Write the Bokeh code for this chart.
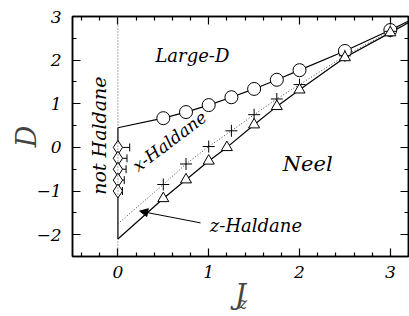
from bokeh.plotting import figure
from bokeh.models import (FixedTicker, LinearAxis, Label, Span, Whisker, TeeHead,
                          Arrow, NormalHead, ColumnDataSource, Range1d)
from bokeh.embed import file_html
from bokeh.resources import INLINE

# ---- data ----
large_d_J = [0.5, 0.75, 1.0, 1.25, 1.5, 1.75, 2.0, 2.5, 3.0]
large_d_D = [0.67, 0.81, 0.97, 1.15, 1.34, 1.55, 1.77, 2.21, 2.69]
large_d_line_J = [0.0, 0.5, 0.75, 1.0, 1.25, 1.5, 1.75, 2.0, 2.5, 3.0, 3.5]
large_d_line_D = [0.45, 0.67, 0.81, 0.97, 1.15, 1.34, 1.55, 1.77, 2.21, 2.69, 3.2]

x_hald_J = [0.5, 0.75, 1.0, 1.25, 1.5, 1.75, 2.0, 2.5, 3.0]
x_hald_D = [-0.85, -0.38, 0.02, 0.38, 0.75, 1.11, 1.44, 2.10, 2.66]
x_hald_line_J = [0.0, 0.5, 0.75, 1.0, 1.25, 1.5, 1.75, 2.0, 2.5, 3.0, 3.5]
x_hald_line_D = [-1.75, -0.85, -0.38, 0.02, 0.38, 0.75, 1.11, 1.44, 2.10, 2.66, 3.2]

z_hald_J = [0.5, 0.75, 1.0, 1.2, 1.5, 1.75, 2.0, 2.5, 3.0]
z_hald_D = [-1.17, -0.74, -0.31, 0.0, 0.52, 0.94, 1.32, 2.06, 2.63]
z_hald_line_J = [0.0, 0.5, 0.75, 1.0, 1.2, 1.5, 1.75, 2.0, 2.5, 3.0, 3.5]
z_hald_line_D = [-2.1, -1.17, -0.74, -0.31, 0.0, 0.52, 0.94, 1.32, 2.06, 2.63, 3.2]

boundary_J = [0.0, 0.0]
boundary_D = [-2.1, 0.45]

not_hald_J = [0.0, 0.0, 0.0, 0.0, 0.0]
not_hald_D = [0.0, -0.25, -0.5, -0.75, -1.0]
not_hald_err = [0.13, 0.10, 0.09, 0.07, 0.05]

x_major = [0, 1, 2, 3]
x_minor = [-0.4, -0.2, 0.2, 0.4, 0.6, 0.8, 1.2, 1.4, 1.6, 1.8, 2.2, 2.4, 2.6, 2.8, 3.2]
y_major = [-2, -1, 0, 1, 2, 3]
y_minor = [-2.5, -1.5, -0.5, 0.5, 1.5, 2.5]
y_labels = {-2: "\u22122", -1: "\u22121", 0: "0", 1: "1", 2: "2", 3: "3"}
x_labels = {0: "0", 1: "1", 2: "2", 3: "3"}
blank_x = {0: "", 1: "", 2: "", 3: ""}
blank_y = {-2: "", -1: "", 0: "", 1: "", 2: "", 3: ""}

FONT = "DejaVu Serif"
STYLE = "italic"

p = figure(width=409, height=316, x_range=Range1d(-0.5, 3.2), y_range=Range1d(-2.5, 3.0),
           output_backend="svg", toolbar_location=None,
           min_border_left=72, min_border_right=1, min_border_top=16, min_border_bottom=60)
p.grid.visible = False
p.outline_line_color = "black"
p.outline_line_width = 1.5
p.background_fill_color = "white"
p.border_fill_color = "white"


def style_axis(ax, ticks, minor, labels):
    ax.ticker = FixedTicker(ticks=ticks, minor_ticks=minor)
    ax.axis_line_color = "black"
    ax.axis_line_width = 1.5
    ax.major_tick_in = 8
    ax.major_tick_out = 0
    ax.minor_tick_in = 4
    ax.minor_tick_out = 0
    ax.major_tick_line_width = 1.2
    ax.minor_tick_line_width = 1.2
    ax.major_label_overrides = labels
    ax.major_label_text_font = FONT
    ax.major_label_text_font_style = STYLE
    ax.major_label_text_font_size = "17px"
    ax.major_label_text_color = "black"
    ax.major_label_text_line_height = 1.0


style_axis(p.xaxis[0], x_major, x_minor, x_labels)
p.xaxis[0].major_label_standoff = 9
p.xaxis[0].axis_label = "J"
p.xaxis[0].axis_label_text_font = FONT
p.xaxis[0].axis_label_text_font_style = STYLE
p.xaxis[0].axis_label_text_font_size = "27px"
p.xaxis[0].axis_label_text_line_height = 1.0
p.xaxis[0].axis_label_standoff = -2

style_axis(p.yaxis[0], y_major, y_minor, y_labels)
p.yaxis[0].major_label_standoff = 11
p.yaxis[0].axis_label = "D"
p.yaxis[0].axis_label_text_font = FONT
p.yaxis[0].axis_label_text_font_style = STYLE
p.yaxis[0].axis_label_text_font_size = "27px"
p.yaxis[0].axis_label_text_line_height = 1.0
p.yaxis[0].axis_label_standoff = -9

# subscript "z" of J_z, as a label-only axis stacked under the x axis
zax = LinearAxis(ticker=FixedTicker(ticks=[]), axis_line_alpha=0,
                 major_tick_line_alpha=0, minor_tick_line_alpha=0,
                 axis_label="\u00a0z", axis_label_text_font=FONT,
                 axis_label_text_font_style=STYLE, axis_label_text_font_size="16px",
                 axis_label_text_line_height=1.0, axis_label_standoff=-19)
p.add_layout(zax, "below")

top = LinearAxis()
style_axis(top, x_major, x_minor, blank_x)
top.major_label_standoff = 0
p.add_layout(top, "above")
right = LinearAxis()
style_axis(right, y_major, y_minor, blank_y)
right.major_label_standoff = 0
p.add_layout(right, "right")

# dotted vertical at J=0 and solid boundary segment
p.add_layout(Span(location=0, dimension="height", line_color="#555555",
                  line_dash="1 2", line_width=1))
p.line(boundary_J, boundary_D, line_color="black", line_width=1.2)

# lines
p.line(large_d_line_J, large_d_line_D, line_color="black", line_width=1.2)
p.line(x_hald_line_J, x_hald_line_D, line_color="#444444", line_width=1, line_dash="1 2")
p.line(z_hald_line_J, z_hald_line_D, line_color="black", line_width=1.2)

# markers
p.scatter(large_d_J, large_d_D, marker="circle", size=13, fill_color="white",
          line_color="black", line_width=1)
p.scatter(x_hald_J, x_hald_D, marker="cross", size=12, line_color="black", line_width=1)
p.scatter(z_hald_J, z_hald_D, marker="triangle", size=11, fill_color="white",
          line_color="black", line_width=1)

# error bars and diamonds
err_src = ColumnDataSource(data=dict(
    y=not_hald_D, lo=not_hald_J,
    hi=[a + b for a, b in zip(not_hald_J, not_hald_err)]))
p.add_layout(Whisker(source=err_src, base="y", lower="lo", upper="hi", dimension="width",
                     line_color="black", line_width=1,
                     upper_head=TeeHead(size=8, line_color="black", line_width=1),
                     lower_head=None))
p.scatter(not_hald_J, not_hald_D, marker="diamond", size=14, fill_color="white",
          line_color="black", line_width=1)

# arrow
p.add_layout(Arrow(end=NormalHead(size=8, fill_color="black", line_color="black"),
                   x_start=0.91, y_start=-1.73, x_end=0.24, y_end=-1.46,
                   line_width=1, line_color="black"))


def lab(x, y, text, size, angle=0):
    p.add_layout(Label(x=x, y=y, text=text, text_font=FONT, text_font_style=STYLE,
                       text_font_size=size, text_align="center", text_baseline="middle",
                       angle=angle, angle_units="deg", text_color="black"))


# region names
lab(0.82, 2.1, "Large-D", "18px")
lab(2.09, -0.39, "Neel", "21px")
lab(1.52, -1.78, "z-Haldane", "18px")
lab(-0.21, 0.27, "not Haldane", "19px", angle=90)
lab(0.57, 0.14, "x-Haldane", "17px", angle=37)

open("out.html", "w").write(file_html(p, INLINE))
